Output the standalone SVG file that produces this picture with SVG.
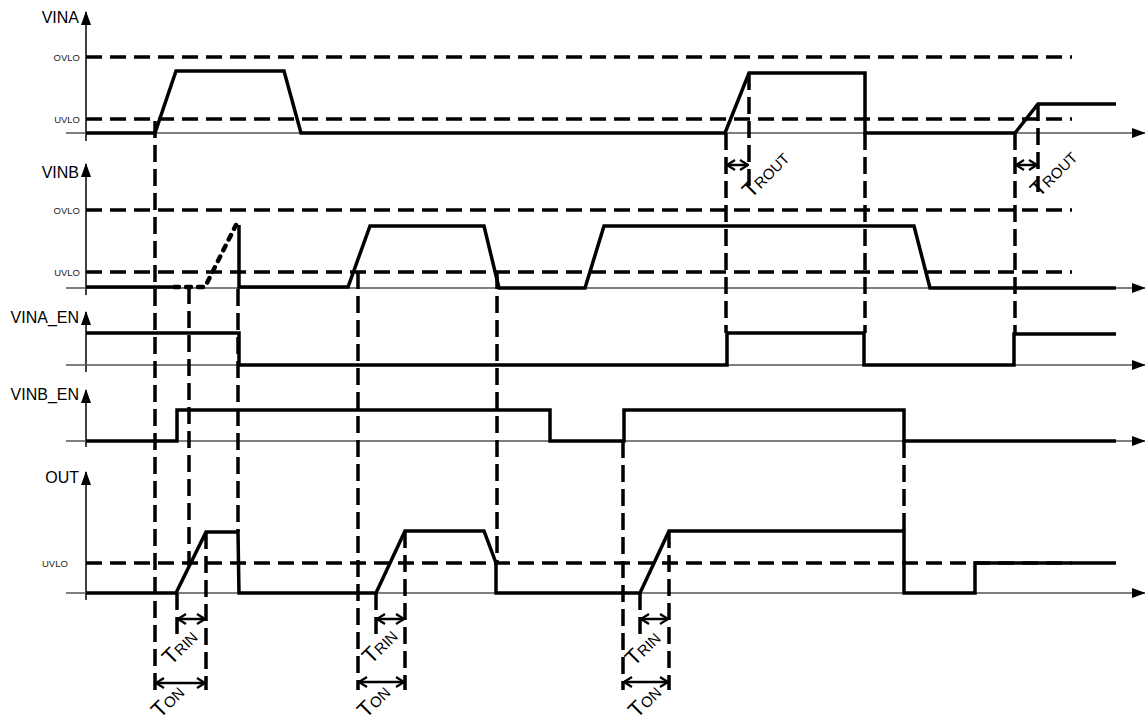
<svg xmlns="http://www.w3.org/2000/svg" width="1145" height="721" viewBox="0 0 1145 721">
<defs>
<style>
.sig{fill:none;stroke:#000;stroke-width:3.5;stroke-linejoin:miter}
.dot{fill:none;stroke:#000;stroke-width:4.5;stroke-linecap:round;stroke-dasharray:5 7}
.thr{fill:none;stroke:#000;stroke-width:3.5;stroke-dasharray:16 8}
.vd{fill:none;stroke:#000;stroke-width:3.5;stroke-dasharray:17 7}
.yax{stroke:#000;stroke-width:1.5;marker-end:url(#ah)}
.xax{stroke:#555;stroke-width:1.5;marker-end:url(#ah)}
.dim{fill:none;stroke:#000;stroke-width:2.5;marker-start:url(#oh);marker-end:url(#oh)}
.lbl{font-family:"Liberation Sans",Arial,sans-serif;font-size:16px;fill:#000}
.th{font-family:"Liberation Sans",Arial,sans-serif;font-size:9.5px;fill:#222}
.dl{font-family:"Liberation Sans",Arial,sans-serif;font-size:22px;fill:#000}
.sub{font-size:15px}
</style>
<marker id="ah" viewBox="0 0 14 10" refX="13" refY="5" markerWidth="14" markerHeight="10" markerUnits="userSpaceOnUse" orient="auto">
<path d="M0,0 L14,5 L0,10 z" fill="#000"/>
</marker>
<marker id="oh" viewBox="0 0 10 12" refX="9" refY="6" markerWidth="10" markerHeight="12" markerUnits="userSpaceOnUse" orient="auto-start-reverse">
<path d="M1,1 L9,6 L1,11" fill="none" stroke="#000" stroke-width="2.2"/>
</marker>
</defs>
<rect width="1145" height="721" fill="#fff"/>

<g id="axes">
<line class="yax" x1="86" y1="141" x2="86" y2="12"/>
<line class="xax" x1="66" y1="133" x2="1145" y2="133"/>
<line class="yax" x1="86" y1="295" x2="86" y2="164"/>
<line class="xax" x1="66" y1="288" x2="1145" y2="288"/>
<line class="yax" x1="86" y1="372" x2="86" y2="312"/>
<line class="xax" x1="66" y1="365" x2="1145" y2="365"/>
<line class="yax" x1="86" y1="447" x2="86" y2="390"/>
<line class="xax" x1="66" y1="441" x2="1145" y2="441"/>
<line class="yax" x1="86" y1="600" x2="86" y2="472"/>
<line class="xax" x1="66" y1="593" x2="1145" y2="593"/>
</g>

<g id="thresholds">
<line class="thr" x1="86" y1="57" x2="1072" y2="57"/>
<line class="thr" x1="86" y1="119" x2="1072" y2="119"/>
<line class="thr" x1="86" y1="210" x2="1072" y2="210"/>
<line class="thr" x1="86" y1="272" x2="1072" y2="272"/>
<line class="thr" x1="86" y1="563" x2="1072" y2="563"/>
</g>

<g id="labels">
<text class="lbl" x="79" y="23" text-anchor="end">VINA</text>
<text class="lbl" x="79" y="178" text-anchor="end">VINB</text>
<text class="lbl" x="79" y="323" text-anchor="end">VINA_EN</text>
<text class="lbl" x="79" y="400" text-anchor="end">VINB_EN</text>
<text class="lbl" x="79" y="483" text-anchor="end">OUT</text>
<text class="th" x="80" y="60.5" text-anchor="end">OVLO</text>
<text class="th" x="80" y="122.5" text-anchor="end">UVLO</text>
<text class="th" x="80" y="213.5" text-anchor="end">OVLO</text>
<text class="th" x="80" y="275.5" text-anchor="end">UVLO</text>
<text class="th" x="42" y="566.5">UVLO</text>
</g>

<g id="connectors">
<line class="vd" x1="155" y1="121" x2="155" y2="690"/>
<line class="vd" x1="189" y1="287" x2="189" y2="566"/>
<line class="vd" x1="206" y1="532" x2="206" y2="690"/>
<line class="vd" x1="238" y1="289" x2="238" y2="532"/>
<line class="vd" x1="177" y1="593" x2="177" y2="641"/>
<line class="vd" x1="358" y1="272" x2="358" y2="690"/>
<line class="vd" x1="405" y1="531" x2="405" y2="690"/>
<line class="vd" x1="497" y1="272" x2="497" y2="563"/>
<line class="vd" x1="376" y1="593" x2="376" y2="641"/>
<line class="vd" x1="623" y1="441" x2="623" y2="690"/>
<line class="vd" x1="669" y1="531" x2="669" y2="690"/>
<line class="vd" x1="640" y1="593" x2="640" y2="641"/>
<line class="vd" x1="726" y1="133" x2="726" y2="333"/>
<line class="vd" x1="749" y1="73" x2="749" y2="192"/>
<line class="vd" x1="865" y1="133" x2="865" y2="333"/>
<line class="vd" x1="1015" y1="133" x2="1015" y2="334"/>
<line class="vd" x1="1038" y1="104" x2="1038" y2="192"/>
<line class="vd" x1="904" y1="441" x2="904" y2="531"/>

<line class="dim" x1="727" y1="165" x2="748" y2="165"/>
<line class="dim" x1="1016" y1="165" x2="1037" y2="165"/>
<line class="dim" x1="178" y1="619" x2="205" y2="619"/>
<line class="dim" x1="156" y1="683" x2="205" y2="683"/>
<line class="dim" x1="377" y1="619" x2="404" y2="619"/>
<line class="dim" x1="359" y1="682" x2="404" y2="682"/>
<line class="dim" x1="641" y1="619" x2="668" y2="619"/>
<line class="dim" x1="624" y1="682" x2="668" y2="682"/>
</g>

<g id="signal-vina">
<path class="sig" d="M86,133 L155,133 L176,71 L284,71 L301,133 L725,133 L749,73 L865,73 L865,133 L1015,133 L1038,104 L1116,104"/>
</g>
<g id="signal-vinb">
<path class="sig" d="M86,287 L172,287"/>
<path class="dot" d="M174,287 L205,287 L236,225"/>
<path class="sig" d="M239,225 L239,287 L348,287 L370,226 L484,226 L499,288 L585,288 L604,226 L914,226 L930,288 L1116,288"/>
</g>
<g id="signal-vina-en">
<path class="sig" d="M86,333 L239,333 L239,365 L727,365 L727,333 L864,333 L864,365 L1014,365 L1014,334 L1116,334"/>
</g>
<g id="signal-vinb-en">
<path class="sig" d="M86,441 L177,441 L177,410 L550,410 L550,441 L624,441 L624,410 L904,410 L904,441 L1116,441"/>
</g>
<g id="signal-out">
<path class="sig" d="M86,593 L176,593 L206,532 L238,532 L239,593 L376,593 L405,531 L484,531 L496,563 L496,593 L640,593 L669,531 L904,531 L904,593 L975,593 L975,563 L1116,563"/>
</g>

<g id="dim-labels">
<g transform="translate(751,199) rotate(-45)"><text class="dl" x="0" y="0">T<tspan class="sub">ROUT</tspan></text></g>
<g transform="translate(1039,198) rotate(-45)"><text class="dl" x="0" y="0">T<tspan class="sub">ROUT</tspan></text></g>
<g transform="translate(171,666) rotate(-45)"><text class="dl" x="0" y="0">T<tspan class="sub">RIN</tspan></text></g>
<g transform="translate(160,719) rotate(-45)"><text class="dl" x="0" y="0">T<tspan class="sub">ON</tspan></text></g>
<g transform="translate(371,665) rotate(-45)"><text class="dl" x="0" y="0">T<tspan class="sub">RIN</tspan></text></g>
<g transform="translate(366,719) rotate(-45)"><text class="dl" x="0" y="0">T<tspan class="sub">ON</tspan></text></g>
<g transform="translate(634,667) rotate(-45)"><text class="dl" x="0" y="0">T<tspan class="sub">RIN</tspan></text></g>
<g transform="translate(637,719) rotate(-45)"><text class="dl" x="0" y="0">T<tspan class="sub">ON</tspan></text></g>
</g>
</svg>
